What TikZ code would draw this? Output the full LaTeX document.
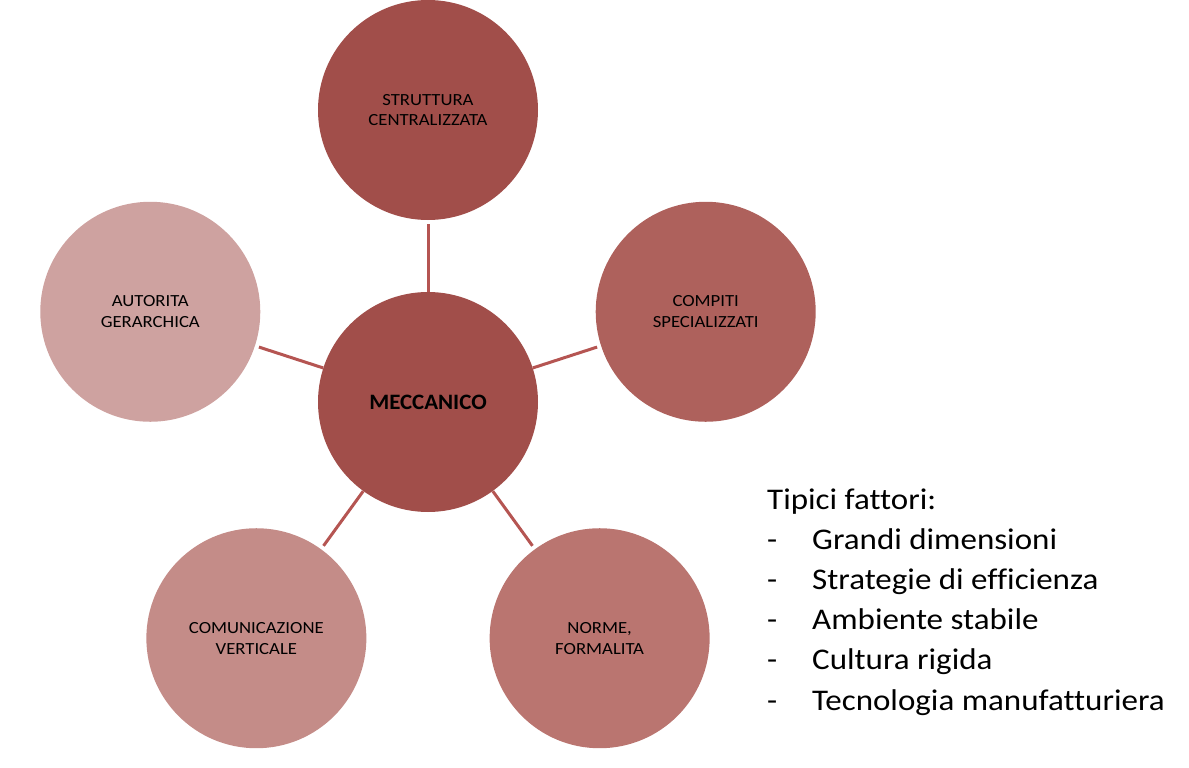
\documentclass[tikz,border=0pt]{standalone}
\usepackage{fontspec}
\setmainfont{Carlito}[Ligatures=NoCommon, FakeStretch=1.1, BoldFeatures={FakeStretch=1.04}]
\usetikzlibrary{positioning,calc}
\definecolor{coreRed}{RGB}{161,78,74}
\definecolor{rightRed}{RGB}{174,97,92}
\definecolor{normeRed}{RGB}{186,117,112}
\definecolor{comuRed}{RGB}{196,140,136}
\definecolor{autoRed}{RGB}{206,162,160}
\definecolor{linkRed}{RGB}{181,85,82}
\tikzset{
  blob/.style={circle, minimum size=220pt, inner sep=0pt, align=center, text=black,
    font=\fontsize{17}{20.7}\selectfont},
  link/.style={draw=linkRed, line width=3pt, shorten >=4pt},
  fattore/.style={anchor=base west, inner sep=0pt, font=\fontsize{30}{36}\selectfont},
}

\begin{document}
\begin{tikzpicture}[x=1pt,y=1pt]
    \useasboundingbox (0,0) rectangle (1189,-768);
    % central circle
    \node[blob, fill=coreRed, font=\fontsize{22}{26}\selectfont\bfseries] (mec) at (428,-402) {MECCANICO};
    % surrounding circles and links
    \foreach \name/\ang/\col/\txt in {
        strut/90/coreRed/{STRUTTURA\\CENTRALIZZATA},
        compiti/18/rightRed/{COMPITI\\SPECIALIZZATI},
        norme/-54/normeRed/{NORME,\\FORMALITA},
        comu/-126/comuRed/{COMUNICAZIONE\\VERTICALE},
        auto/162/autoRed/{AUTORITA\\GERARCHICA}} {
        \node[blob, fill=\col] (\name) at ($(mec)+(\ang:292)$) {\txt};
        \draw[link] (mec) -- (\name);
    }
    % typical factors
    \node[fattore] (titolo) at (767,-509) {Tipici fattori:};
    \foreach \txt [count=\i] in {Grandi dimensioni, Strategie di efficienza,
        Ambiente stabile, Cultura rigida, Tecnologia manufatturiera} {
        \node[fattore] (dash\i) at (767,{-509-40.2*\i}) {-};
        \node[fattore] (fatt\i) at (812,{-509-40.2*\i}) {\txt};
    }
\end{tikzpicture}
\end{document}
